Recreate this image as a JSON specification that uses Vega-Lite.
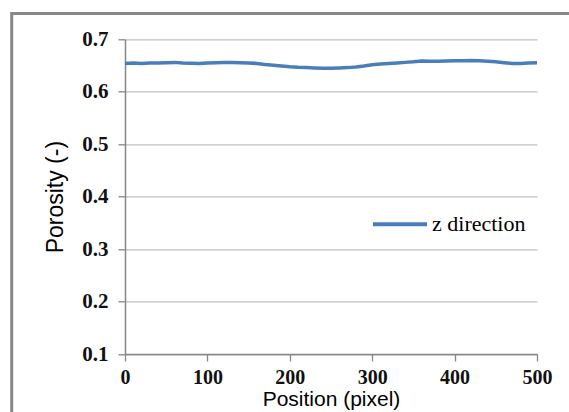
{
  "$schema": "https://vega.github.io/schema/vega-lite/v6.json",
  "autosize": "none",
  "width": 412,
  "height": 314.7,
  "padding": {"left": 125, "top": 39.3, "right": 32, "bottom": 58},
  "background": "white",
  "config": {
    "view": {"stroke": null},
    "axis": {
      "labelFont": "Liberation Serif",
      "labelFontSize": 21,
      "labelFontWeight": "bold",
      "labelColor": "#111111",
      "titleFont": "Liberation Sans",
      "titleFontWeight": "normal",
      "titleColor": "black",
      "domainColor": "#868686",
      "domainWidth": 1.5,
      "tickColor": "#868686",
      "tickWidth": 1.3,
      "tickSize": 7
    }
  },
  "layer": [
    {
      "data": {"values": [{}]},
      "mark": {"type": "rect", "fillOpacity": 0, "stroke": "#888888", "strokeWidth": 3, "clip": false},
      "encoding": {
        "x": {"datum": -137.5, "type": "quantitative", "scale": {"domain": [0, 500], "nice": false, "zero": false}},
        "x2": {"datum": 800},
        "y": {"datum": 0.749, "type": "quantitative", "scale": {"domain": [0.1, 0.7], "nice": false, "zero": false}},
        "y2": {"datum": -0.4}
      }
    },
    {
      "data": {
        "values": [
          {"position": 0, "porosity": 0.654, "series": "z direction"},
          {"position": 10, "porosity": 0.655, "series": "z direction"},
          {"position": 20, "porosity": 0.654, "series": "z direction"},
          {"position": 30, "porosity": 0.655, "series": "z direction"},
          {"position": 40, "porosity": 0.655, "series": "z direction"},
          {"position": 50, "porosity": 0.6555, "series": "z direction"},
          {"position": 60, "porosity": 0.656, "series": "z direction"},
          {"position": 70, "porosity": 0.655, "series": "z direction"},
          {"position": 80, "porosity": 0.6545, "series": "z direction"},
          {"position": 90, "porosity": 0.654, "series": "z direction"},
          {"position": 100, "porosity": 0.655, "series": "z direction"},
          {"position": 110, "porosity": 0.6555, "series": "z direction"},
          {"position": 120, "porosity": 0.656, "series": "z direction"},
          {"position": 130, "porosity": 0.656, "series": "z direction"},
          {"position": 140, "porosity": 0.6555, "series": "z direction"},
          {"position": 150, "porosity": 0.655, "series": "z direction"},
          {"position": 160, "porosity": 0.654, "series": "z direction"},
          {"position": 170, "porosity": 0.652, "series": "z direction"},
          {"position": 180, "porosity": 0.6505, "series": "z direction"},
          {"position": 190, "porosity": 0.649, "series": "z direction"},
          {"position": 200, "porosity": 0.6475, "series": "z direction"},
          {"position": 210, "porosity": 0.6465, "series": "z direction"},
          {"position": 220, "porosity": 0.646, "series": "z direction"},
          {"position": 230, "porosity": 0.6455, "series": "z direction"},
          {"position": 240, "porosity": 0.645, "series": "z direction"},
          {"position": 250, "porosity": 0.645, "series": "z direction"},
          {"position": 260, "porosity": 0.6455, "series": "z direction"},
          {"position": 270, "porosity": 0.646, "series": "z direction"},
          {"position": 280, "porosity": 0.647, "series": "z direction"},
          {"position": 290, "porosity": 0.649, "series": "z direction"},
          {"position": 300, "porosity": 0.6515, "series": "z direction"},
          {"position": 310, "porosity": 0.653, "series": "z direction"},
          {"position": 320, "porosity": 0.654, "series": "z direction"},
          {"position": 330, "porosity": 0.655, "series": "z direction"},
          {"position": 340, "porosity": 0.656, "series": "z direction"},
          {"position": 350, "porosity": 0.657, "series": "z direction"},
          {"position": 360, "porosity": 0.6585, "series": "z direction"},
          {"position": 370, "porosity": 0.658, "series": "z direction"},
          {"position": 380, "porosity": 0.658, "series": "z direction"},
          {"position": 390, "porosity": 0.6585, "series": "z direction"},
          {"position": 400, "porosity": 0.659, "series": "z direction"},
          {"position": 410, "porosity": 0.659, "series": "z direction"},
          {"position": 420, "porosity": 0.6595, "series": "z direction"},
          {"position": 430, "porosity": 0.659, "series": "z direction"},
          {"position": 440, "porosity": 0.658, "series": "z direction"},
          {"position": 450, "porosity": 0.657, "series": "z direction"},
          {"position": 460, "porosity": 0.6555, "series": "z direction"},
          {"position": 470, "porosity": 0.654, "series": "z direction"},
          {"position": 480, "porosity": 0.654, "series": "z direction"},
          {"position": 490, "porosity": 0.655, "series": "z direction"},
          {"position": 500, "porosity": 0.6555, "series": "z direction"}
        ]
      },
      "mark": {"type": "line", "strokeWidth": 3.5},
      "encoding": {
        "x": {
          "field": "position",
          "type": "quantitative",
          "scale": {"domain": [0, 500], "nice": false, "zero": false},
          "axis": {
            "title": "Position (pixel)",
            "titleFontSize": 21,
            "titlePadding": 1,
            "values": [0, 100, 200, 300, 400, 500],
            "labelFontSize": 20,
            "labelPadding": 6,
            "grid": false,
            "labelFlush": false
          }
        },
        "y": {
          "field": "porosity",
          "type": "quantitative",
          "scale": {"domain": [0.1, 0.7], "nice": false, "zero": false},
          "axis": {
            "title": "Porosity (-)",
            "titleFontSize": 23,
            "titlePadding": 14,
            "values": [0.1, 0.2, 0.3, 0.4, 0.5, 0.6, 0.7],
            "format": ".1f",
            "labelPadding": 10,
            "grid": true,
            "gridColor": "#bfbfbf",
            "gridWidth": 1.3
          }
        },
        "color": {
          "field": "series",
          "type": "nominal",
          "scale": {"domain": ["z direction"], "range": ["#4a7ebb"]},
          "legend": {
            "title": null,
            "orient": "none",
            "legendX": 246,
            "legendY": 156,
            "padding": 0,
            "symbolType": "stroke",
            "symbolSize": 2916,
            "symbolStrokeWidth": 4,
            "labelFont": "Liberation Serif",
            "labelFontSize": 22,
            "labelColor": "black",
            "labelOffset": 3
          }
        }
      }
    }
  ]
}
